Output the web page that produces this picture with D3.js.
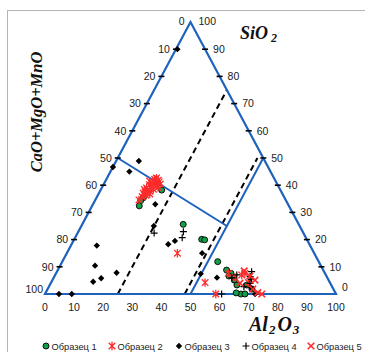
<!DOCTYPE html>
<html><head><meta charset="utf-8">
<script src="https://cdn.jsdelivr.net/npm/d3@7"></script>
<style>html,body{margin:0;padding:0;background:#fff;}svg{display:block;}</style>
</head><body>
<script>
// ---- data: each point = [Al2O3, SiO2]; CaO+MgO+MnO = 100 - Al2O3 - SiO2 ----
const seriesNames = ["Образец 1","Образец 2","Образец 3","Образец 4","Образец 5"];
const axisTicks = [0,10,20,30,40,50,60,70,80,90,100];

const sample1 = [[21.0,38.2],[16.1,35.4],[15.7,34.3],[16.2,32.4],[34.7,25.6],[43.8,20.1],[44.9,19.9],
  [53.4,11.9],[58.0,8.8],[60.1,7.6],[62.5,5.1],[64.3,3.3],[67.3,0],[68.7,0],[67.7,3.3],[70.2,1.8],[65.5,0.4],[59.9,6.6]];
const sample2 = [[16.8,39.3],[15.8,40.2],[17.5,40.8],[18.3,39.8],[16.2,38.2],[17.2,37.8],[15.4,39.0],[18.6,41.2],
  [15.2,41.5],[16.6,42.2],[18.0,38.5],[17.6,36.8],[16.0,37.2],[19.2,39.2],[16.4,40.8],[18.0,41.8],[15.0,38.4],
  [17.0,42.6],[19.4,40.4],[15.6,37.6],[15.3,37.0],[15.5,35.8],[15.0,34.6],[16.5,36.3],
  [38.0,15.0],[52.9,4.2],[58.7,0],[59.2,7.6],[62.2,6.1],[64.1,7.0],[64.9,7.6],[67.8,4.2]];
const sample3 = [[0.5,90],[0,46.7],[7.8,48.9],[6.5,45],[21.4,33],[24.9,25],[8.9,17.8],[12,10.4],[14.3,4.5],
  [16.4,5.8],[20.7,7.8],[4.8,0],[9.2,0],[33.2,18.3],[34.9,19.5],[46.5,15],[49.8,7.4],[56.1,6],[70,2.1],[72.2,0]];
const sample4 = [[26.3,22.4],[36.1,22.9],[36.8,20.7],[60.7,0],[62.4,7.0],[68.5,3.9],[68.3,5.4],[66.9,8.2],
  [67.3,6.4],[67.0,2.7],[61.3,5.9]];
const sample5 = [[64.2,8.5],[67.1,6.6],[69.6,5.1],[72.9,0.5],[74.5,0],[70.5,1.8],[65.0,4.0]];
// guide lines: [Al2O3, SiO2] endpoints
const blueLines = [[[50,0],[50,50]], [[0,50],[50,25]]];
const dashedLines = [[[25,0],[25,75]], [[48,0],[48,50]]];

const W=365,H=352;
const svg=d3.select("body").append("svg").attr("width",W).attr("height",H);
svg.append("rect").attr("width",W).attr("height",H).attr("fill","#fff");
svg.append("rect").attr("x",7.5).attr("y",10.5).attr("width",420).attr("height",420)
  .attr("fill","none").attr("stroke","#b4b4b4").attr("stroke-width",1);

const xs=d3.scaleLinear().domain([0,100]).range([45,336]);
const ys=d3.scaleLinear().domain([0,100]).range([294,22]);
const P=(a,s)=>[xs(a+s/2), ys(s)];

const blue="#1e62be";
const line=d3.line().x(d=>P(d[0],d[1])[0]).y(d=>P(d[0],d[1])[1]);

dashedLines.forEach(l=>svg.append("path").attr("d",line(l)).attr("fill","none")
  .attr("stroke","#000").attr("stroke-width",2).attr("stroke-dasharray","6,4"));
svg.append("path").attr("d",line([[0,0],[100,0],[0,100]])+"Z").attr("fill","none")
  .attr("stroke",blue).attr("stroke-width",2.2).attr("stroke-linejoin","miter");
blueLines.forEach(l=>svg.append("path").attr("d",line(l)).attr("fill","none")
  .attr("stroke",blue).attr("stroke-width",2));

const tickG=svg.append("g");
const lab=svg.append("g").attr("font-family","Liberation Sans, Arial, sans-serif").attr("font-size",10.5).attr("fill","#1a1a1a");
axisTicks.forEach(v=>{
  let p=P(0,100-v);
  if(v>0&&v<100) tickG.append("line").attr("x1",p[0]-3).attr("x2",p[0]+3).attr("y1",p[1]).attr("y2",p[1]).attr("stroke","#000").attr("stroke-width",1.6);
  let dy=(v===0)?-1:(v===100?-5:0), dx=(v===100)?-2:-6;
  lab.append("text").attr("x",p[0]+dx).attr("y",p[1]+dy+3.8).attr("text-anchor","end").text(v);
  p=P(100-v,v);
  if(v>0&&v<100) tickG.append("line").attr("x1",p[0]-3).attr("x2",p[0]+3).attr("y1",p[1]).attr("y2",p[1]).attr("stroke","#000").attr("stroke-width",1.6);
  dy=(v===0)?-7:(v===100?-1:0); dx=(v===0)?6:8;
  lab.append("text").attr("x",p[0]+dx).attr("y",p[1]+dy+3.8).attr("text-anchor","start").text(v);
  p=P(v,0);
  lab.append("text").attr("x",p[0]).attr("y",p[1]+17).attr("text-anchor","middle").text(v);
});

const tf="Liberation Serif, Times New Roman, serif";
const t1=svg.append("text").attr("x",240).attr("y",39).attr("font-family",tf).attr("font-weight","bold").attr("font-style","italic").attr("font-size",18).attr("fill","#111");
t1.append("tspan").text("SiO");
t1.append("tspan").attr("dx",3).attr("dy",3).attr("font-size",12).text("2");
const t2=svg.append("text").attr("x",249).attr("y",331).attr("font-family",tf).attr("font-weight","bold").attr("font-style","italic").attr("font-size",20).attr("fill","#111");
t2.append("tspan").text("Al");
t2.append("tspan").attr("dx",1).attr("dy",3).attr("font-size",13).text("2");
t2.append("tspan").attr("dx",2).attr("dy",-3).text("O");
t2.append("tspan").attr("dx",1).attr("dy",3).attr("font-size",13).text("3");
svg.append("text").attr("transform","translate(42,112) rotate(-90)").attr("text-anchor","middle")
  .attr("font-family",tf).attr("font-weight","bold").attr("font-style","italic").attr("font-size",16.5).attr("fill","#111")
  .text("CaO+MgO+MnO");

const red="#ff2a2a";
const markers=[
  g=>g.append("circle").attr("r",3).attr("fill","#11a04a").attr("stroke","#000").attr("stroke-width",0.9),
  g=>g.append("path").attr("d","M-3.3,-3.3L3.3,3.3M-3.3,3.3L3.3,-3.3M0,-4.2V4.2").attr("stroke",red).attr("stroke-width",1.3).attr("fill","none"),
  g=>g.append("path").attr("d",d3.symbol(d3.symbolSquare,20)()).attr("transform","rotate(45)").attr("fill","#000"),
  g=>g.append("path").attr("d","M-3.5,0H3.5M0,-3.5V3.5").attr("stroke","#000").attr("stroke-width",1.2).attr("fill","none"),
  g=>g.append("path").attr("d","M-3.3,-3.3L3.3,3.3M-3.3,3.3L3.3,-3.3").attr("stroke",red).attr("stroke-width",1.6).attr("fill","none")
];
[sample1,sample2,sample3,sample4,sample5].forEach((data,i)=>{
  const g=svg.append("g");
  data.forEach(d=>{const p=P(d[0],d[1]); const m=g.append("g").attr("transform",`translate(${p[0]},${p[1]})`); markers[i](m);});
});

const legX=[46,112,179,246,311];
const lg=svg.append("g").attr("font-family","Liberation Sans, Arial, sans-serif").attr("font-size",9.3).attr("fill","#222");
seriesNames.forEach((n,i)=>{
  const m=lg.append("g").attr("transform",`translate(${legX[i]},346)`); markers[i](m);
  lg.append("text").attr("x",legX[i]+5.5).attr("y",349.5).text(n);
});
</script>
</body></html>
